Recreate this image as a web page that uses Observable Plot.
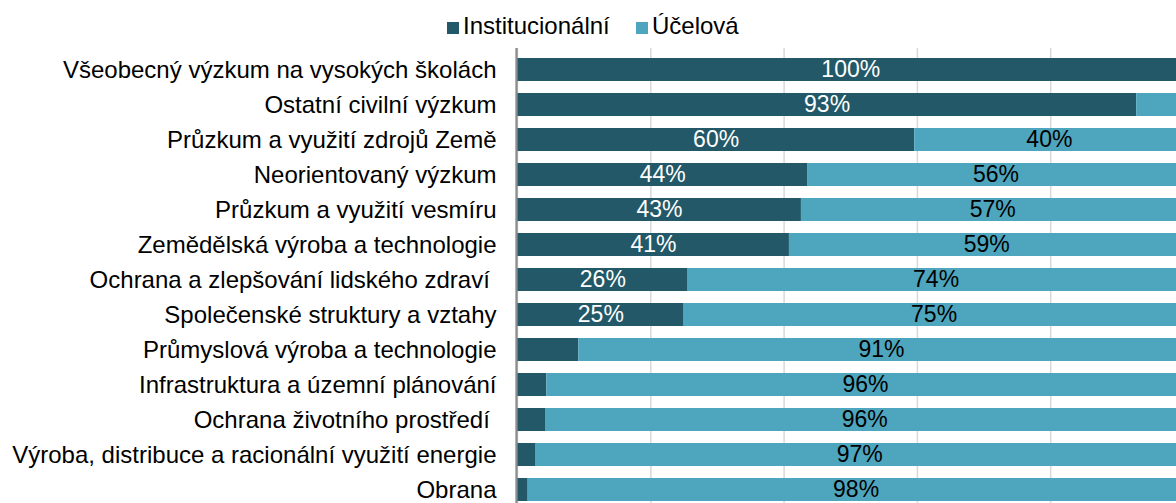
<!DOCTYPE html>
<html>
<head>
<meta charset="utf-8">
<script src="https://cdn.jsdelivr.net/npm/d3@7"></script>
<script src="https://cdn.jsdelivr.net/npm/@observablehq/plot@0.6"></script>
<style>
  html, body { margin: 0; padding: 0; overflow: hidden; background: #fff; width: 1176px; height: 503px; }
  #wrap { position: relative; width: 1176px; height: 503px; overflow: hidden; font-family: "Liberation Sans", Arial, sans-serif; }
  #legend { position: absolute; top: 0; left: 0; width: 1176px; height: 40px; }
  .sw { position: absolute; top: 22px; width: 12px; height: 12px; }
  .lt { position: absolute; top: 12px; font-size: 24px; line-height: 28px; color: #000; white-space: pre; }
  #chart { position: absolute; top: 40px; left: 0; width: 1190px; }
  #chart svg { max-width: none !important; height: auto; }
  #chart svg text { white-space: pre; }
</style>
</head>
<body>
<div id="wrap">
  <div id="legend"></div>
  <div id="chart"></div>
</div>
<script>
const categories = [
  "Všeobecný výzkum na vysokých školách",
  "Ostatní civilní výzkum",
  "Průzkum a využití zdrojů Země",
  "Neorientovaný výzkum",
  "Průzkum a využití vesmíru",
  "Zemědělská výroba a technologie",
  "Ochrana a zlepšování lidského zdraví ",
  "Společenské struktury a vztahy",
  "Průmyslová výroba a technologie",
  "Infrastruktura a územní plánování",
  "Ochrana životního prostředí ",
  "Výroba, distribuce a racionální využití energie",
  "Obrana"
];
const series = ["Institucionální", "Účelová"];
const institucionalni = [100, 92.9, 59.6, 43.6, 42.6, 40.8, 25.6, 25.0, 9.2, 4.4, 4.2, 2.7, 1.6];
const ucelova =         [0,   7.1,  40.4, 56.4, 57.4, 59.2, 74.4, 75.0, 90.8, 95.6, 95.8, 97.3, 98.4];
const colors = ["#225867", "#4EA6BE"];
const xTicks = [0, 20, 40, 60, 80, 100];

// legend
const legendPos = [447, 636];
const legend = document.getElementById("legend");
series.forEach((s, i) => {
  const sw = document.createElement("div");
  sw.className = "sw";
  sw.style.left = legendPos[i] + "px";
  sw.style.background = colors[i];
  legend.appendChild(sw);
  const t = document.createElement("div");
  t.className = "lt";
  t.style.left = (legendPos[i] + 16) + "px";
  t.textContent = s;
  legend.appendChild(t);
});

const data = categories.flatMap((c, i) => [
  {cat: c, series: series[0], value: institucionalni[i]},
  {cat: c, series: series[1], value: ucelova[i]}
]);

const fmt = v => Math.round(v) + "%";

const chart = Plot.plot({
  width: 1190,
  height: 470,
  marginLeft: 517,
  marginRight: 6.5,
  marginTop: 8,
  marginBottom: 0,
  style: {fontFamily: "'Liberation Sans', Arial, sans-serif", fontSize: "24px", color: "#000", background: "transparent", maxWidth: "none"},
  x: {domain: [0, 100], axis: null},
  y: {domain: categories, paddingInner: 0.35, paddingOuter: 0.175, label: null},
  color: {domain: series, range: colors},
  marks: [
    Plot.gridX(xTicks, {stroke: "#d9d9d9", strokeOpacity: 1, strokeWidth: 1.5}),
    Plot.barX(data, {y: "cat", x: "value", fill: "series"}),
    Plot.ruleX([0], {stroke: "#8c8c8c", strokeWidth: 2.3, dx: -1}),
    Plot.axisY({tickSize: 0, tickPadding: 21, fontSize: 24, label: null}),
    Plot.text(data, Plot.stackX({
      y: "cat", x: "value",
      text: d => (d.series === series[0] && d.value >= 20) ? fmt(d.value) : null,
      fill: "white", fontSize: 23
    })),
    Plot.text(data, Plot.stackX({
      y: "cat", x: "value",
      text: d => (d.series === series[1] && d.value >= 20) ? fmt(d.value) : null,
      fill: "black", fontSize: 23
    }))
  ]
});
document.getElementById("chart").appendChild(chart);
</script>
</body>
</html>
